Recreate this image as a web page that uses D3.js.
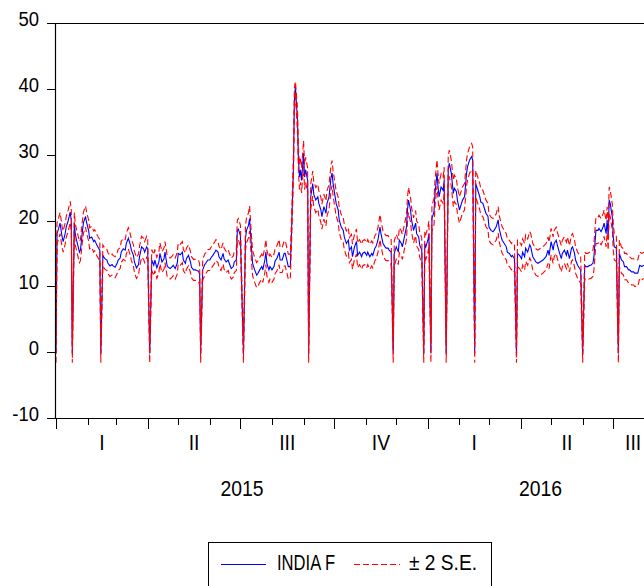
<!DOCTYPE html>
<html>
<head>
<meta charset="utf-8">
<script src="https://cdn.jsdelivr.net/npm/d3@7"></script>
<style>
  body { margin: 0; background: #fff; }
  svg text { font-family: "Liberation Sans", Arial, sans-serif; fill: #000; }
</style>
</head>
<body>
<div id="chart"></div>
<script>
// days counted from 1 Jan 2015
const days = [
  0, 1, 2, 4, 6, 7, 9, 10, 12, 14, 15, 16, 18, 19, 21, 23, 24, 26, 27, 29, 30, 32, 33, 35, 37, 38, 40, 41, 43,
  44, 46, 48, 50, 51, 53, 55, 56, 58, 60, 61, 63, 64, 66, 68, 69, 71, 73, 74, 76, 77, 79, 81, 82, 84, 86, 87, 89, 90,
  92, 94, 96, 97, 99, 101, 102, 104, 106, 107, 109, 110, 112, 114, 115, 117, 119, 120, 122, 124, 125, 127, 128, 130, 132, 133, 135, 137, 138, 140, 141,
  142, 144, 146, 147, 149, 151, 152, 154, 156, 157, 159, 160, 162, 164, 165, 167, 169, 170, 172, 174, 175, 177, 178, 179, 181,
  184, 186, 187, 189, 190, 191, 192, 193, 195, 197, 198, 200, 202, 203, 205, 206, 207, 209, 210, 212, 214, 215, 217, 219, 220, 222, 224, 225, 227, 228, 230,
  231, 233, 234, 235, 237, 238, 239, 240, 241, 243, 244, 245, 247,
  248, 250, 252, 253, 255, 257, 258, 260, 261, 263, 265, 266, 268, 270, 271, 272, 274, 275, 277, 278, 280, 282, 283, 285, 287, 288, 290,
  291, 293, 295, 296, 298, 300, 301, 303, 305, 306, 308, 310, 311, 313, 314, 316, 318, 319, 321, 323, 324, 326, 327, 329,
  331, 332, 334, 336, 337, 339, 340, 342, 344, 345, 346, 348, 349, 351, 353, 354, 356, 357, 359, 361, 362, 363, 365, 366,
  368, 369, 371, 372, 374, 375, 376, 378, 380, 381, 383, 385, 386, 388, 390, 391, 393, 394, 396, 398, 399, 401, 403, 404, 406, 408, 409,
  411, 412, 414, 416, 417, 419, 421, 422, 424, 425, 427, 429, 430, 432, 434, 435, 437, 438, 440, 442, 443, 445, 447, 448, 450,
  452, 453, 455, 457, 458, 460, 461, 463, 465, 466, 468, 470, 471, 473, 475, 478, 481, 483, 484, 486, 488, 489, 491, 492, 494, 496, 497, 499, 501, 502, 504, 506, 507, 509, 510, 512, 514, 515,
  517, 519, 520, 522, 524, 525, 527, 528, 530, 532, 533, 535, 537, 538, 540, 541, 542, 543, 544, 546, 547, 548, 550, 552, 553, 555, 557, 558, 560, 562, 563, 565, 567, 568, 570, 571, 573, 575, 577
];

const forecast = [
  -0.2, 18.0, 18.5, 19.6, 17.5, 16.8, 18.0, 19.0, 20.0, 21.3, 20.0, -0.2, 19.6, 17.8, 16.5, 15.2, 15.5, 18.5, 19.7, 20.6, 19.7, 18.5, 17.3, 17.5, 16.8, 17.0, 16.3, 16.0, 15.5,
  -0.2, 14.7, 14.2, 14.0, 13.5, 13.1, 13.3, 13.1, 12.9, 13.5, 14.0, 14.3, 15.2, 15.7, 15.5, 16.5, 17.3, 16.3, 15.5, 14.7, 13.7, 12.8, 13.3, 14.5, 16.0, 15.7, 15.2, 16.0, 15.7,
  -0.2, 14.0, 13.2, 14.0, 12.8, 13.7, 15.0, 13.7, 14.2, 15.2, 13.2, 12.9, 12.7, 13.0, 13.2, 12.7, 13.5, 15.0, 14.8, 15.2, 14.0, 13.5, 14.2, 14.7, 13.7, 12.9, 12.5, 12.5, 12.4, 12.3, 11.8,
  -0.2, 12.5, 13.3, 13.5, 14.0, 14.0, 14.3, 14.7, 15.2, 15.5, 15.2, 14.5, 14.0, 15.0, 14.2, 13.7, 14.0, 13.5, 12.7, 13.0, 13.7, 14.0, 18.5, 18.7, 17.7,
  -0.2, 17.3, 18.5, 19.3, 20.3, 18.0, 15.5, 13.5, 12.5, 11.7, 11.9, 12.5, 13.0, 12.5, 14.0, 15.2, 13.5, 12.5, 13.0, 12.5, 13.0, 13.8, 14.3, 15.2, 14.0, 14.0, 15.0, 15.0, 13.7, 13.0, 13.0,
  17.5, 27.7, 38.3, 40.3, 35.3, 29.2, 26.6, 27.7, 26.1, 30.2, 26.6, 27.7, 26.1,
  -0.2, 23.6, 25.6, 24.0, 23.1, 23.6, 22.6, 21.6, 20.6, 22.1, 21.1, 22.6, 23.6, 26.6, 27.2, 25.6, 23.6, 22.6, 21.6, 20.1, 19.0, 18.5, 17.5, 16.5, 17.0, 15.5, 16.0,
  14.5, 16.0, 16.8, 14.7, 15.2, 14.5, 15.0, 15.2, 14.7, 15.2, 14.5, 15.0, 14.7, 15.8, 16.0, 17.0, 19.0, 18.0, 16.5, 16.0, 15.8, 15.8, 15.5, 15.2,
  -0.2, 15.0, 16.0, 15.2, 17.0, 16.5, 16.0, 17.5, 19.0, 21.6, 23.1, 21.6, 20.1, 18.5, 19.6, 18.0, 17.5, 16.3, 15.5, -0.2, 16.5, 16.0, 17.0, 18.0,
  -0.2, 20.3, 21.3, 24.1, 27.2, 25.1, 23.6, 25.1, 24.6, 26.1, -0.2, 27.7, 28.7, 27.2, 24.1, 24.9, 24.4, 23.1, 21.6, 22.6, 23.1, 23.6, 27.2, 28.2, 29.2, 29.7, 29.2,
  -0.2, 25.6, 24.6, 23.6, 22.8, 22.6, 21.6, 21.1, 20.6, 19.0, 18.5, 18.3, 18.5, 19.0, 20.1, 18.8, 17.5, 17.0, 16.5, 16.0, 15.2, 15.0, 14.5, 14.7, 14.2,
  -0.2, 15.0, 14.7, 14.2, 15.2, 14.5, 15.8, 15.2, 16.3, 16.0, 14.5, 14.0, 13.7, 13.5, 13.7, 14.0, 14.5, 15.5, 14.7, 16.8, 15.5, 16.5, 17.0, 16.3, 15.2, 14.2, 15.0, 15.5, 14.7, 15.5, 14.2, 15.8, 16.0, 15.0, 14.0, 13.2, 12.7, 12.5,
  -0.2, 13.2, 13.0, 13.0, 13.2, 13.2, 13.5, 14.5, 18.5, 18.5, 18.8, 18.3, 19.0, 19.6, 18.0, 20.1, 17.5, 23.1, 22.6, 20.6, 17.5, 16.0, 15.8, -0.2, 15.0, 14.0, 13.7, 13.0, 13.0, 12.5, 12.5, 12.2, 12.2, 12.0, 12.0, 12.0, 13.2, 13.0, 13.2
];

// two standard errors around the forecast
const twoSE = [
  1.4, 1.6, 1.6, 1.6, 1.6, 1.6, 1.6, 1.6, 1.6, 1.6, 1.6, 1.4, 1.6, 1.6, 1.6, 1.6, 1.6, 1.6, 1.6, 1.6, 1.6, 1.6, 1.6, 1.6, 1.6, 1.6, 1.6, 1.6, 1.6,
  1.4, 1.6, 1.6, 1.6, 1.6, 1.6, 1.6, 1.6, 1.6, 1.6, 1.6, 1.6, 1.6, 1.6, 1.6, 1.6, 1.6, 1.6, 1.6, 1.6, 1.6, 1.6, 1.6, 1.6, 1.6, 1.6, 1.6, 1.6, 1.6,
  1.4, 1.6, 1.6, 1.6, 1.6, 1.6, 1.6, 1.6, 1.6, 1.6, 1.6, 1.6, 1.6, 1.6, 1.6, 1.6, 1.6, 1.6, 1.6, 1.6, 1.6, 1.6, 1.6, 1.6, 1.6, 1.6, 1.6, 1.6, 1.6, 1.6, 1.6,
  1.4, 1.6, 1.6, 1.6, 1.6, 1.6, 1.6, 1.6, 1.6, 1.6, 1.6, 1.6, 1.6, 1.6, 1.6, 1.6, 1.6, 1.6, 1.6, 1.6, 1.6, 1.6, 1.6, 1.6, 1.6,
  1.4, 1.9, 1.9, 1.9, 1.9, 1.9, 1.9, 1.9, 1.9, 1.9, 1.9, 1.9, 1.9, 1.9, 1.9, 1.9, 1.9, 1.9, 1.9, 1.9, 1.9, 1.9, 1.9, 1.9, 1.9, 1.9, 1.9, 1.9, 1.9, 1.9, 1.9,
  1.9, 1.9, 1.9, 0.8, 1.9, 1.9, 1.9, 1.9, 1.9, 1.9, 1.9, 1.9, 1.9,
  1.4, 1.9, 1.9, 1.9, 1.9, 1.9, 1.9, 1.9, 1.9, 1.9, 1.9, 1.9, 1.9, 1.9, 1.9, 1.9, 1.9, 1.9, 1.9, 1.9, 1.9, 1.9, 1.9, 1.9, 1.9, 1.9, 1.9,
  1.9, 1.9, 1.9, 1.9, 1.9, 1.9, 1.9, 1.9, 1.9, 1.9, 1.9, 1.9, 1.9, 1.9, 1.9, 1.9, 1.9, 1.9, 1.9, 1.9, 1.9, 1.9, 1.9, 1.9,
  1.4, 1.9, 1.9, 1.9, 1.9, 1.9, 1.9, 1.9, 1.9, 1.9, 1.9, 1.9, 1.9, 1.9, 1.9, 1.9, 1.9, 1.9, 1.9, 1.4, 1.9, 1.9, 1.9, 1.9,
  1.4, 2.0, 2.0, 2.0, 2.0, 2.0, 2.0, 2.0, 2.0, 2.0, 1.4, 2.0, 2.0, 2.0, 2.0, 2.0, 2.0, 2.0, 2.0, 2.0, 2.0, 2.0, 2.0, 2.0, 2.0, 2.0, 2.0,
  1.4, 2.0, 2.0, 2.0, 2.0, 2.0, 2.0, 2.0, 2.0, 2.0, 2.0, 2.0, 2.0, 2.0, 2.0, 2.0, 2.0, 2.0, 2.0, 2.0, 2.0, 2.0, 2.0, 2.0, 2.0,
  1.4, 2.0, 2.0, 2.0, 2.0, 2.0, 2.0, 2.0, 2.0, 2.0, 2.0, 2.0, 2.0, 2.0, 2.0, 2.0, 2.0, 2.0, 2.0, 2.0, 2.0, 2.0, 2.0, 2.0, 2.0, 2.0, 2.0, 2.0, 2.0, 2.0, 2.0, 2.0, 2.0, 2.0, 2.0, 2.0, 2.0, 2.0,
  1.4, 2.0, 2.0, 2.0, 2.0, 2.0, 2.0, 2.0, 2.0, 2.0, 2.0, 2.0, 2.0, 2.0, 2.0, 2.0, 2.0, 2.0, 2.0, 2.0, 2.0, 2.0, 2.0, 1.4, 2.0, 2.0, 2.0, 2.0, 2.0, 2.0, 2.0, 2.0, 2.0, 2.0, 2.0, 2.0, 2.0, 2.0, 2.0
];

const yTicks = [-10, 0, 10, 20, 30, 40, 50];
const quarterNames = ["I", "II", "III", "IV"];
const years = [2015, 2016];
const legendLabels = ["INDIA F", "\u00b1 2 S.E."];

const svgWidth = 644;
const svgHeight = 586;

const plot = { left: 55, top: 23, right: 653, bottom: 418 };

const svg = d3.select("#chart")
  .append("svg")
  .attr("width", svgWidth)
  .attr("height", svgHeight)
  .style("display", "block");

svg.append("rect")
  .attr("width", svgWidth)
  .attr("height", svgHeight)
  .attr("fill", "#fff");

// narrow-looking text, like the original's axis font
function narrowText(parent, x, y, str, size, anchor) {
  return parent.append("text")
    .attr("transform", `translate(${x},${y}) scale(0.88,1)`)
    .attr("text-anchor", anchor || "middle")
    .attr("font-size", size)
    .text(str);
}

// Step 1: data rows
// ==============================
const start = Date.UTC(2015, 0, 1);
const rows = days.map((d, i) => ({
  date: new Date(Date.UTC(2015, 0, 1 + d)),
  f: forecast[i],
  se: twoSE[i]
}));

// Step 2: scales
// ==============================
const xScale = d3.scaleUtc()
  .domain([new Date(start), new Date(Date.UTC(2016, 7, 9))])
  .range([plot.left + 1, plot.right]);

const yScale = d3.scaleLinear()
  .domain([-10, 50])
  .range([plot.bottom, plot.top]);

// Step 3: lines
// ==============================
svg.append("clipPath")
  .attr("id", "clip")
  .append("rect")
  .attr("x", plot.left)
  .attr("y", plot.top)
  .attr("width", plot.right - plot.left)
  .attr("height", plot.bottom - plot.top);

const lines = svg.append("g").attr("clip-path", "url(#clip)");

const fLine = d3.line().x(d => xScale(d.date)).y(d => yScale(d.f));
const upLine = d3.line().x(d => xScale(d.date)).y(d => yScale(d.f + d.se));
const loLine = d3.line().x(d => xScale(d.date)).y(d => yScale(d.f - d.se));

lines.append("path")
  .datum(rows)
  .attr("d", fLine)
  .attr("fill", "none")
  .attr("stroke", "#0000ff")
  .attr("stroke-width", 1.1);

[upLine, loLine].forEach(gen => {
  lines.append("path")
    .datum(rows)
    .attr("d", gen)
    .attr("fill", "none")
    .attr("stroke", "#ff0000")
    .attr("stroke-width", 1.1)
    .attr("stroke-dasharray", "6,3");
});

// Step 4: frame and y axis
// ==============================
svg.append("path")
  .attr("d", `M${plot.right},${plot.top + 0.5}H${plot.left + 0.5}V${plot.bottom + 0.5}H${plot.right}`)
  .attr("fill", "none")
  .attr("stroke", "#000")
  .attr("stroke-width", 1.2);

const yAxis = svg.append("g");
yTicks.forEach(t => {
  const y = Math.round(yScale(t)) + 0.5;
  yAxis.append("line")
    .attr("x1", plot.left - 8).attr("x2", plot.left)
    .attr("y1", y).attr("y2", y)
    .attr("stroke", "#000");
  narrowText(yAxis, plot.left - 16, y + 2, t, 21, "end");
});

// Step 5: x axis (months, quarters, years)
// ==============================
const end = xScale.domain()[1];
const months = d3.utcMonth.range(new Date(start), end);
months.forEach(m => {
  const x = Math.round(xScale(m)) + 0.5;
  const major = m.getUTCMonth() % 3 === 0;
  svg.append("line")
    .attr("x1", x).attr("x2", x)
    .attr("y1", plot.bottom).attr("y2", plot.bottom + (major ? 11 : 7))
    .attr("stroke", "#000");
});

const quarters = d3.utcMonth.every(3).range(new Date(start), end);
quarters.forEach(q => {
  const next = d3.utcMonth.offset(q, 3);
  const x0 = xScale(q);
  const x1 = Math.min(xScale(next), plot.right);
  narrowText(svg, (x0 + x1) / 2, 450, quarterNames[q.getUTCMonth() / 3], 22);
});

years.forEach(yr => {
  const x0 = xScale(new Date(Date.UTC(yr, 0, 1)));
  const x1 = Math.min(xScale(new Date(Date.UTC(yr + 1, 0, 1))), plot.right);
  narrowText(svg, (x0 + x1) / 2, 496, yr, 22);
});

// Step 6: legend
// ==============================
const legend = svg.append("g");
legend.append("rect")
  .attr("x", 208.5).attr("y", 542.5)
  .attr("width", 283).attr("height", 60)
  .attr("fill", "none")
  .attr("stroke", "#000");

legend.append("line")
  .attr("x1", 221).attr("x2", 266)
  .attr("y1", 564.5).attr("y2", 564.5)
  .attr("stroke", "#0000ff").attr("stroke-width", 1.1);
legend.append("text")
  .attr("x", 277).attr("y", 570)
  .attr("font-size", 22)
  .attr("textLength", 58)
  .attr("lengthAdjust", "spacingAndGlyphs")
  .text(legendLabels[0]);

legend.append("line")
  .attr("x1", 354).attr("x2", 400)
  .attr("y1", 564.5).attr("y2", 564.5)
  .attr("stroke", "#ff0000").attr("stroke-width", 1.1)
  .attr("stroke-dasharray", "6,3");
legend.append("text")
  .attr("x", 409).attr("y", 570)
  .attr("font-size", 22)
  .attr("textLength", 68)
  .attr("lengthAdjust", "spacingAndGlyphs")
  .text(legendLabels[1]);
</script>
</body>
</html>
